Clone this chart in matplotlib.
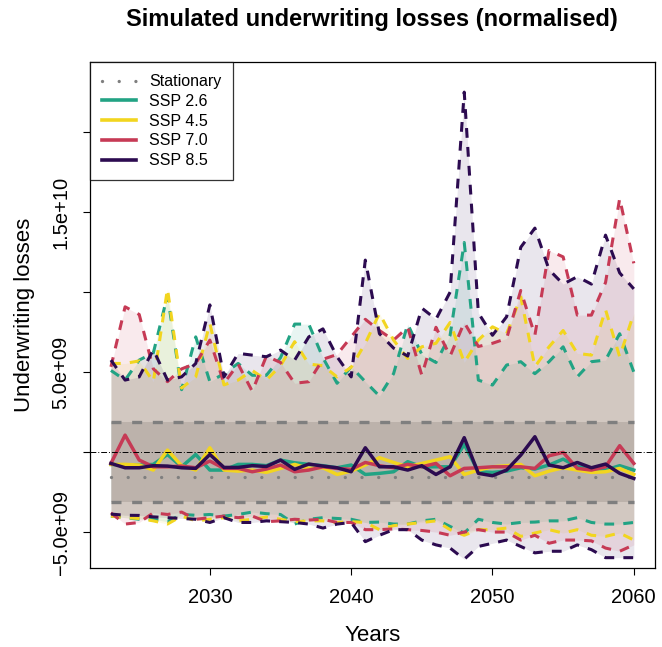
import numpy as np
import matplotlib.pyplot as plt
from matplotlib.lines import Line2D

plt.rcParams['font.family'] = ['Liberation Sans', 'DejaVu Sans']

years = np.arange(2023, 2061)

# stationary reference band (units of 1e9)
stat_mid = -1.55
stat_lo = -3.15
stat_hi = 1.9

# scenario medians (1e9)
ssp26_mid = [-0.77, -0.81, -0.81, -0.77, -0.15, -0.92, -0.15, -1.125, -1.125, -0.77,
             -0.77, -0.85, -0.5, -0.67, -0.77, -0.85, -0.98, -0.81, -1.4,
             -1.33, -1.23, -0.6, -0.92, -0.92, -0.92, 0.48, -1.23, -1.27, -1.19,
             -0.98, -1.06, -0.81, -0.44, -0.92, -1.02, -1.125, -0.85, -1.125]
ssp45_mid = [-0.77, -0.77, -0.81, -1.125, 0.125, -0.85, -1.125, 0.27, -1.125, -1.19,
             -1.125, -1.27, -1.02, -0.77, -1.02, -0.98, -1.4, -1.19, -0.81,
             -0.35, -0.65, -0.92, -0.71, -0.5, -0.29, -1.4, -1.125, -0.92, -0.85,
             -0.77, -1.48, -1.19, -0.98, -1.125, -1.27, -1.23, -1.02, -1.4]
ssp70_mid = [-0.71, 1.06, -0.5, -0.92, -0.92, -0.875, -0.98, -0.56, -1.02, -1.02,
             -1.23, -1.06, -0.81, -1.23, -1.125, -0.92, -1.02, -1.08, -0.65,
             -0.85, -0.98, -0.77, -0.92, -0.71, -1.48, -1.02, -0.98, -0.92, -0.92,
             -0.92, -1.02, -0.23, -0.02, -1.02, -1.125, -0.92, 0.4, -0.71]
ssp85_mid = [-0.71, -0.98, -0.98, -0.85, -0.875, -0.98, -1.02, -0.15, -0.96, -0.96,
             -0.85, -0.9, -0.5, -1.08, -0.75, -0.875, -0.98, -1.23, 0.27,
             -0.92, -0.92, -1.125, -0.85, -1.4, -0.92, 0.9, -1.33, -1.48, -1.125,
             -0.19, 0.96, -0.81, -0.98, -0.65, -0.98, -0.75, -1.33, -1.65]

# lower quantiles (1e9)
ssp26_lo = [-4.0, -4.1, -4.2, -4.2, -4.35, -3.9, -3.95, -3.9, -4.0, -3.9,
            -3.75, -3.85, -3.9, -4.5, -4.2, -4.1, -4.15, -4.2, -4.4,
            -4.375, -4.5, -4.5, -4.3, -4.2, -4.65, -5.06, -4.2, -4.4, -4.5,
            -4.4, -4.375, -4.3, -4.3, -4.1, -4.4, -4.5, -4.5, -4.4]
ssp45_lo = [-4.0, -4.1, -4.15, -4.3, -4.5, -4.0, -4.3, -4.2, -4.1, -4.3,
            -4.2, -4.06, -4.2, -4.35, -4.3, -4.3, -4.4, -4.35, -4.4,
            -4.85, -4.6, -4.5, -4.4, -4.3, -4.85, -5.2, -4.85, -4.85, -4.75,
            -5.27, -5.06, -4.85, -5.06, -4.85, -5.2, -5.27, -5.06, -5.5]
ssp70_lo = [-3.8, -4.5, -4.4, -3.8, -3.9, -3.75, -4.2, -4.1, -4.0, -4.1,
            -4.0, -4.35, -4.3, -4.2, -4.25, -4.2, -4.4, -4.4, -4.85,
            -4.85, -4.8, -4.85, -4.9, -5.0, -5.2, -5.0, -4.85, -5.0, -5.0,
            -5.5, -5.2, -5.7, -5.5, -5.5, -5.55, -6.0, -6.2, -5.8]
ssp85_lo = [-3.875, -3.95, -3.96, -4.05, -4.1, -4.15, -4.2, -4.4, -4.1, -4.4,
            -4.4, -4.3, -4.35, -4.4, -4.5, -4.75, -4.5, -4.4, -5.6,
            -5.2, -4.85, -4.85, -5.5, -5.8, -6.0, -6.7, -5.9, -5.7, -5.5,
            -5.9, -6.3, -6.2, -6.2, -5.8, -6.1, -6.6, -6.6, -6.6]

# upper quantiles (1e9)
ssp26_hi = [5.1, 4.5, 5.75, 6.2, 9.8, 3.9, 7.2, 4.4, 4.9, 5.54,
            4.8, 4.8, 5.9, 8.0, 8.0, 5.9, 4.3, 5.33, 4.4,
            3.5, 4.9, 8.0, 6.1, 5.6, 7.3, 13.1, 4.5, 4.19, 5.44,
            5.65, 4.9, 5.65, 6.58, 4.7, 5.65, 5.75, 7.4, 5.0]
ssp45_hi = [5.54, 5.54, 5.7, 4.4, 10.2, 4.0, 4.7, 8.04, 4.2, 4.5,
            5.1, 4.5, 5.4, 6.9, 5.5, 5.4, 4.7, 5.3, 6.8,
            8.67, 7.0, 5.85, 6.58, 6.8, 8.1, 5.6, 7.0, 7.83, 7.4,
            9.7, 5.33, 6.58, 7.6, 6.17, 6.06, 8.9, 5.96, 8.67]
ssp70_hi = [5.33, 9.08, 8.6, 5.2, 4.4, 5.2, 5.54, 7.0, 4.3, 5.5,
            3.8, 6.0, 5.6, 4.3, 4.4, 5.8, 6.1, 7.2, 8.3,
            7.6, 7.0, 7.8, 4.8, 7.8, 6.0, 8.1, 6.6, 6.8, 7.1,
            10.1, 7.3, 12.6, 12.2, 8.56, 8.56, 10.6, 15.85, 11.8]
ssp85_hi = [5.75, 4.5, 4.7, 6.4, 4.5, 4.7, 5.54, 9.2, 4.7, 6.17,
            6.06, 5.96, 6.375, 5.75, 7.2, 7.7, 5.96, 4.7, 12.0,
            7.4, 6.5, 6.0, 9.0, 8.3, 10.0, 22.5, 8.7, 7.3, 8.46,
            12.8, 14.0, 11.4, 10.5, 10.96, 10.5, 13.56, 11.2, 10.2]

labels = ['SSP 2.6', 'SSP 4.5', 'SSP 7.0', 'SSP 8.5']
colors = ['#22A384', '#F2D51F', '#C63A55', '#2C0B50']
mids = [ssp26_mid, ssp45_mid, ssp70_mid, ssp85_mid]
los = [ssp26_lo, ssp45_lo, ssp70_lo, ssp85_lo]
his = [ssp26_hi, ssp45_hi, ssp70_hi, ssp85_hi]

scale = 1e9

fig = plt.figure(figsize=(6.62, 6.47), dpi=100)
ax = fig.add_axes([0.136, 0.122, 0.853, 0.782])

# stationary band
n = len(years)
ax.fill_between(years, np.full(n, stat_lo) * scale, np.full(n, stat_hi) * scale,
                color='#808080', alpha=0.25, lw=0, zorder=1)
ax.plot(years, np.full(n, stat_hi) * scale, color='#7f7f7f', lw=2.4,
        dashes=(3, 3.2), zorder=2)
ax.plot(years, np.full(n, stat_lo) * scale, color='#7f7f7f', lw=2.4,
        dashes=(3, 3.2), zorder=2)
ax.plot(years, np.full(n, stat_mid) * scale, color='#7f7f7f', lw=2.4,
        dashes=(0.01, 5), dash_capstyle='round', zorder=2)

for lab, col, mid, lo, hi in zip(labels, colors, mids, los, his):
    lo = np.array(lo) * scale
    hi = np.array(hi) * scale
    ax.fill_between(years, lo, hi, color=col, alpha=0.1, lw=0, zorder=1)
    ax.plot(years, hi, color=col, lw=2.2, dashes=(3.2, 3.0), zorder=3)
    ax.plot(years, lo, color=col, lw=2.2, dashes=(3.2, 3.0), zorder=3)

for lab, col, mid in zip(labels, colors, mids):
    ax.plot(years, np.array(mid) * scale, color=col, lw=2.5, zorder=4)

ax.axhline(0, color='black', lw=0.7, dashes=(6, 2, 1, 2), zorder=5)

ax.set_xlim(2021.52, 2061.48)
ax.set_ylim(-7.25e9, 24.375e9)
ax.set_xticks([2030, 2040, 2050, 2060])
ax.set_yticks([-5e9, 0, 5e9, 1e10, 1.5e10, 2e10])
ax.set_yticklabels(['\u22125.0e+09', '', '5.0e+09', '', '1.5e+10', ''],
                   rotation=90, va='center')
ax.tick_params(axis='both', direction='out', length=5, width=0.8, labelsize=14.5)
ax.tick_params(axis='x', pad=9)
ax.tick_params(axis='y', pad=9)
for sp in ax.spines.values():
    sp.set_linewidth(0.9)

ax.set_xlabel('Years', fontsize=16, labelpad=13)
ax.set_ylabel('Underwriting losses', fontsize=16, labelpad=12)
fig.suptitle('Simulated underwriting losses (normalised)', fontsize=17,
             fontweight='bold', x=0.5625, y=0.988)

handles = [Line2D([], [], color='#7f7f7f', lw=2.4, dashes=(0.01, 5),
                  dash_capstyle='round')]
handles += [Line2D([], [], color=c, lw=2.6) for c in colors]
leg = ax.legend(handles, ['Stationary'] + labels, loc='upper left',
                bbox_to_anchor=(0, 1), fontsize=11.5, frameon=True, fancybox=False,
                borderaxespad=0, handlelength=2.1, handletextpad=0.85,
                labelspacing=0.3, borderpad=0.75)
leg.get_frame().set_edgecolor('black')
leg.get_frame().set_linewidth(0.9)
leg.set_zorder(10)

fig.savefig('out.png', dpi=100)
